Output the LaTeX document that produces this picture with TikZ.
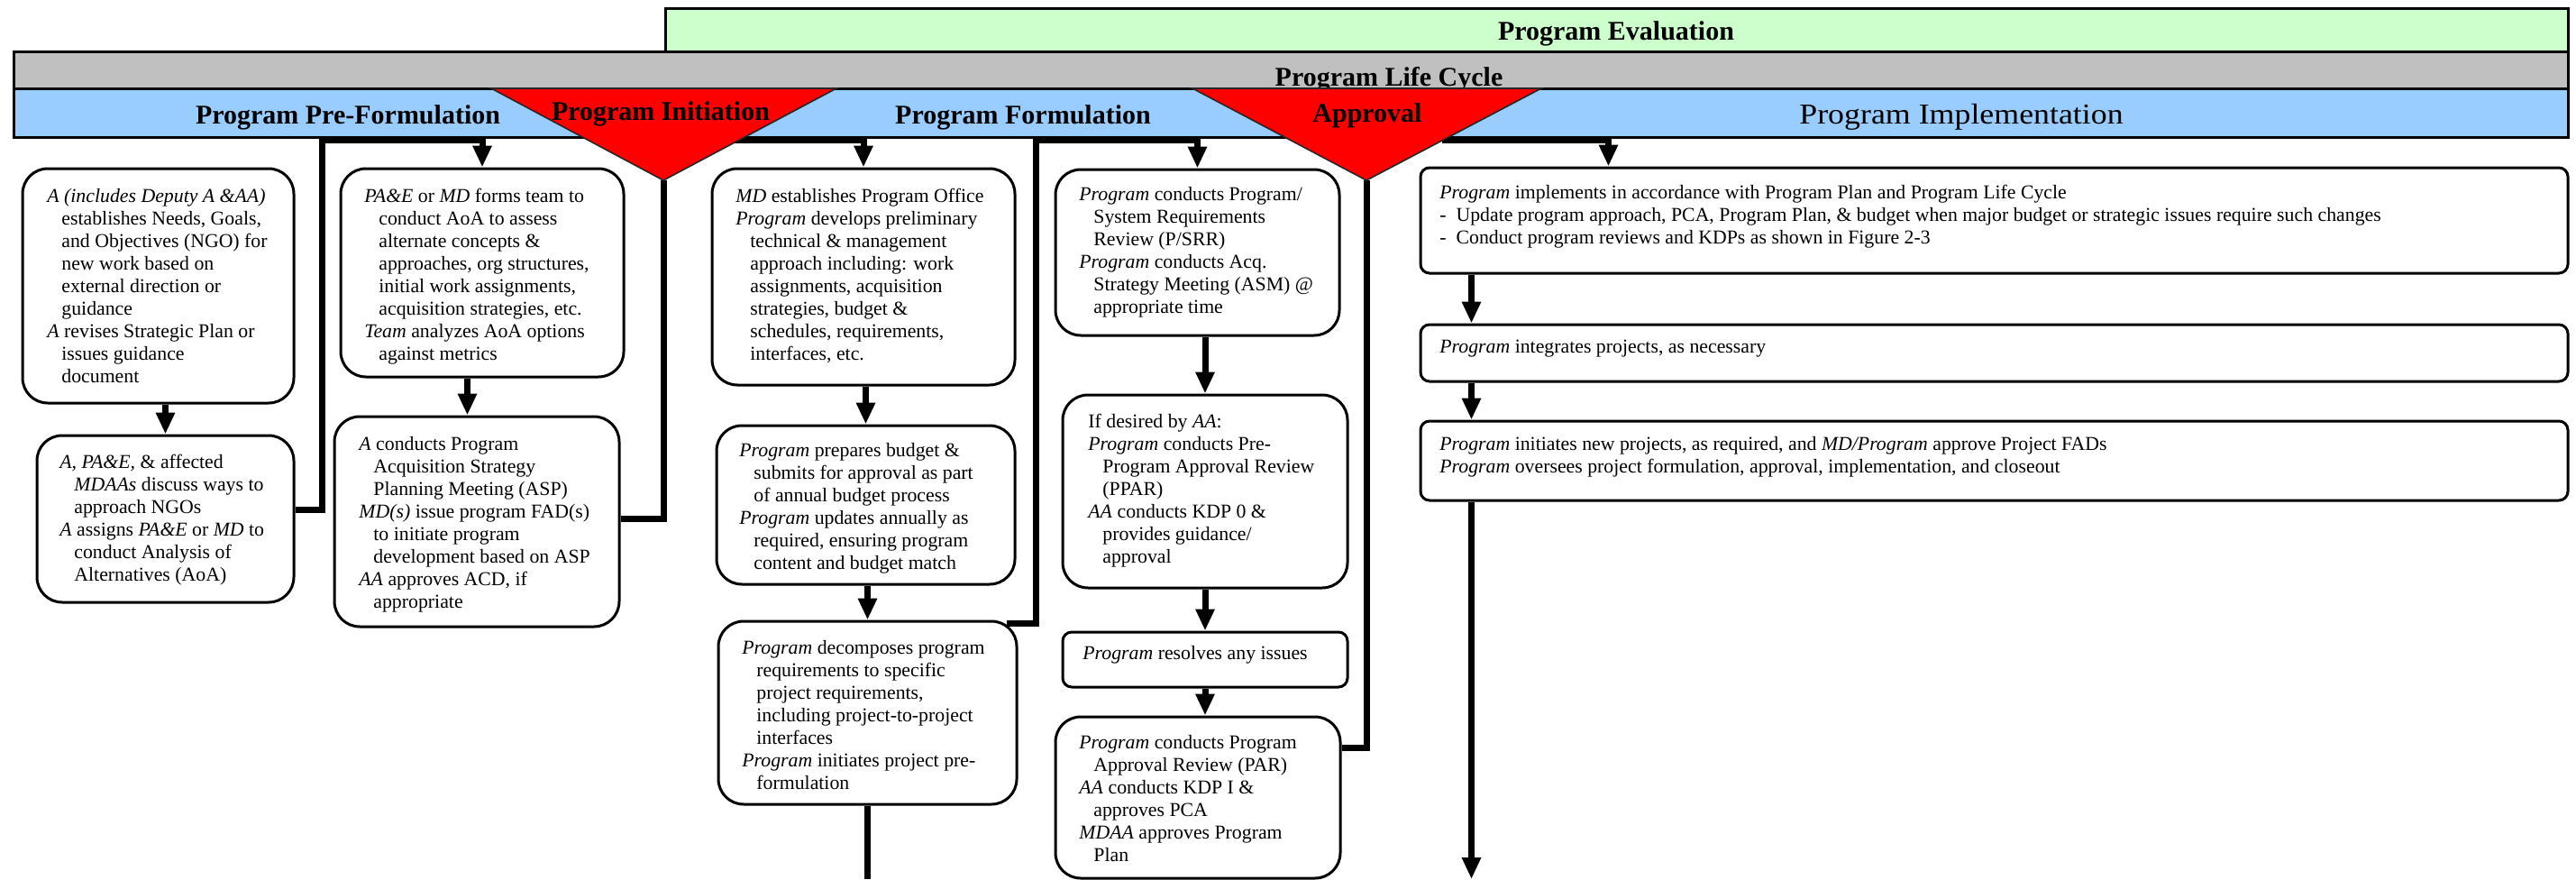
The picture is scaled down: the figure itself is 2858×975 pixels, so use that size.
\documentclass[tikz,border=0pt]{standalone}
\usepackage{fontspec}
\setmainfont{Liberation Serif}
\usetikzlibrary{arrows.meta,fit,calc}
\newcommand\ind{\hspace*{8pt}}
\definecolor{evalgreen}{HTML}{CCFFCC}
\definecolor{lcgray}{HTML}{C0C0C0}
\definecolor{phblue}{HTML}{99CCFF}
\definecolor{msred}{HTML}{FF0000}
\tikzset{
  band/.style={draw, line width=1.5pt, inner sep=0pt},
  bx/.style={draw, line width=1.5pt, rounded corners=14pt, inner sep=0pt},
  ebx/.style={draw, line width=1.5pt, rounded corners=5pt, inner sep=0pt},
  conn/.style={line width=3.5pt, -{Triangle[length=12pt,width=10pt]}},
  plain/.style={line width=3.5pt},
  txt/.style={anchor=base west, inner sep=0pt, font=\fontsize{10.9}{12.5}\selectfont},
  hd/.style={anchor=base, inner sep=0pt, font=\bfseries\fontsize{15}{18}\selectfont},
  tri/.style={fill=msred, draw=black!85, line width=0.8pt}
}
\begin{document}
\begin{tikzpicture}[x=0.5pt,y=-0.5pt]
\useasboundingbox (0,0) rectangle (2858,975);
% bands
\node[band, fill=evalgreen, fit={(738,9) (2849,57)}] (eval) {};
\node[hd] (tEval) at (1793,44) {Program Evaluation};
\node[band, fill=lcgray, fit={(15,57) (2849,98)}] (plc) {};
\node[hd] (tPlc) at (1541,95) {Program Life Cycle};
\node[band, fill=phblue, fit={(15,98) (2849,152)}] (phase) {};
\node[hd] (tPre) at (386,137) {Program Pre-Formulation};
\node[hd] (tForm) at (1135,137) {Program Formulation};
\node[anchor=base, inner sep=0pt, font=\fontsize{16}{19}\selectfont] (tImpl) at (2176,137) {\scalebox{1.12}[1]{Program Implementation}};

% boxes
\node[bx, fit={(25,187) (326,447)}] (A1) {};
\node[bx, fit={(41,483) (326,668)}] (A2) {};
\node[bx, fit={(378,187) (692,418)}] (B1) {};
\node[bx, fit={(371,462) (687,695)}] (B2) {};
\node[bx, fit={(790,187) (1126,427)}] (C1) {};
\node[bx, fit={(795,472) (1126,648)}] (C2) {};
\node[bx, fit={(797,689) (1128,892)}] (C3) {};
\node[bx, fit={(1171,188) (1486,372)}] (D1) {};
\node[bx, fit={(1179,438) (1495,652)}] (D2) {};
\node[ebx, fit={(1179,701) (1495,762)}] (D3) {};
\node[bx, fit={(1171,795) (1487,974)}] (D4) {};
\node[ebx, fit={(1576,186) (2849,303)}] (E1) {};
\node[ebx, fit={(1576,360) (2849,423)}] (E2) {};
\node[ebx, fit={(1576,467) (2849,555)}] (E3) {};

% junction coordinates
\coordinate (j1) at (357,155);
\coordinate (j2) at (1149,155);
\coordinate (itapex) at (736,200);
\coordinate (itR) at (815,155);
\coordinate (apapex) at (1516,200);
\coordinate (apR) at (1600,155);
\coordinate (bot) at (0,975);

% connectors
\draw[conn] (A1.south -| A2.north) -- (A2.north);
\draw[conn] ($(A2.north east)+(0,84)$) -| (j1) -| (B1.north);
\draw[conn] ($(B1.south west)+(142,0)$) coordinate (b1s) -- (b1s |- B2.north);
\draw[plain] ($(B2.north east)+(0,115)$) -| (itapex);
\draw[conn] (itR) -| (C1.north);
\draw[conn] (C2.north |- C1.south) -- (C2.north);
\draw[conn] (C3.north |- C2.south) -- (C3.north);
\draw[plain] (C3.south) -- (C3.south |- bot);
\draw[conn] ($(C3.north east)+(-13,4)$) -| (j2) -| (D1.north);
\draw[conn] (D2.north |- D1.south) -- (D2.north);
\draw[conn] (D3.north |- D2.south) -- (D3.north);
\draw[conn] (D3.south) -- (D3.south |- D4.north);
\draw[plain] ($(D4.north east)+(0,36)$) -| (apapex);
\draw[conn] (apR) -| ($(E1.north west)+(210,0)$);
\draw[conn] ($(E1.south west)+(58,0)$) coordinate (e1s) -- (e1s |- E2.north);
\draw[conn] ($(E2.south west)+(58,0)$) coordinate (e2s) -- (e2s |- E3.north);
\draw[conn] ($(E3.south west)+(58,0)$) coordinate (e3s) -- (e3s |- bot);

% milestone triangles
\filldraw[tri] (545,98) -- (928,98) -- (itapex) -- cycle;
\filldraw[tri] (1323,98) -- (1710,98) -- (apapex) -- cycle;
\node[hd] (tInit) at (733,133) {Program Initiation};
\node[hd] (tAppr) at (1517,135) {Approval};

% box texts
\node[txt] (A1t) at (52,224) {\parbox[t]{600pt}{%
\textit{A (includes Deputy A \&AA)}\\
\ind establishes Needs, Goals,\\
\ind and Objectives (NGO) for\\
\ind new work based on\\
\ind external direction or\\
\ind guidance\\
\textit{A} revises Strategic Plan or\\
\ind issues guidance\\
\ind document}};
\node[txt] (A2t) at (66,519) {\parbox[t]{600pt}{%
\textit{A, PA\&E,} \& affected\\
\ind \textit{MDAAs} discuss ways to\\
\ind approach NGOs\\
\textit{A} assigns \textit{PA\&E} or \textit{MD} to\\
\ind conduct Analysis of\\
\ind Alternatives (AoA)}};
\node[txt] (B1t) at (404,224) {\parbox[t]{600pt}{%
\textit{PA\&E} or \textit{MD} forms team to\\
\ind conduct AoA to assess\\
\ind alternate concepts \&\\
\ind approaches, org structures,\\
\ind initial work assignments,\\
\ind acquisition strategies, etc.\\
\textit{Team} analyzes AoA options\\
\ind against metrics}};
\node[txt] (B2t) at (398,499) {\parbox[t]{600pt}{%
\textit{A} conducts Program\\
\ind Acquisition Strategy\\
\ind Planning Meeting (ASP)\\
\textit{MD(s)} issue program FAD(s)\\
\ind to initiate program\\
\ind development based on ASP\\
\textit{AA} approves ACD, if\\
\ind appropriate}};
\node[txt] (C1t) at (816,224) {\parbox[t]{600pt}{%
\textit{MD} establishes Program Office\\
\textit{Program} develops preliminary\\
\ind technical \& management\\
\ind approach including: work\\
\ind assignments, acquisition\\
\ind strategies, budget \&\\
\ind schedules, requirements,\\
\ind interfaces, etc.}};
\node[txt] (C2t) at (820,506) {\parbox[t]{600pt}{%
\textit{Program} prepares budget \&\\
\ind submits for approval as part\\
\ind of annual budget process\\
\textit{Program} updates annually as\\
\ind required, ensuring program\\
\ind content and budget match}};
\node[txt] (C3t) at (823,725) {\parbox[t]{600pt}{%
\textit{Program} decomposes program\\
\ind requirements to specific\\
\ind project requirements,\\
\ind including project-to-project\\
\ind interfaces\\
\textit{Program} initiates project pre-\\
\ind formulation}};
\node[txt] (D1t) at (1197,222) {\parbox[t]{600pt}{%
\textit{Program} conducts Program/\\
\ind System Requirements\\
\ind Review (P/SRR)\\
\textit{Program} conducts Acq.\\
\ind Strategy Meeting (ASM) @\\
\ind appropriate time}};
\node[txt] (D2t) at (1207,474) {\parbox[t]{600pt}{%
If desired by \textit{AA}:\\
\textit{Program} conducts Pre-\\
\ind Program Approval Review\\
\ind (PPAR)\\
\textit{AA} conducts KDP 0 \&\\
\ind provides guidance/\\
\ind approval}};
\node[txt] (D3t) at (1201,731) {\textit{Program} resolves any issues};
\node[txt] (D4t) at (1197,830) {\parbox[t]{600pt}{%
\textit{Program} conducts Program\\
\ind Approval Review (PAR)\\
\textit{AA} conducts KDP I \&\\
\ind approves PCA\\
\textit{MDAA} approves Program\\
\ind Plan}};
\node[txt] (E1t) at (1597,220) {\parbox[t]{1200pt}{%
\textit{Program} implements in accordance with Program Plan and Program Life Cycle\\
-\ \ Update program approach, PCA, Program Plan, \& budget when major budget or strategic issues require such changes\\
-\ \ Conduct program reviews and KDPs as shown in Figure 2-3}};
\node[txt] (E2t) at (1597,391) {\textit{Program} integrates projects, as necessary};
\node[txt] (E3t) at (1597,499) {\parbox[t]{1200pt}{%
\textit{Program} initiates new projects, as required, and \textit{MD/Program} approve Project FADs\\
\textit{Program} oversees project formulation, approval, implementation, and closeout}};
\end{tikzpicture}
\end{document}
